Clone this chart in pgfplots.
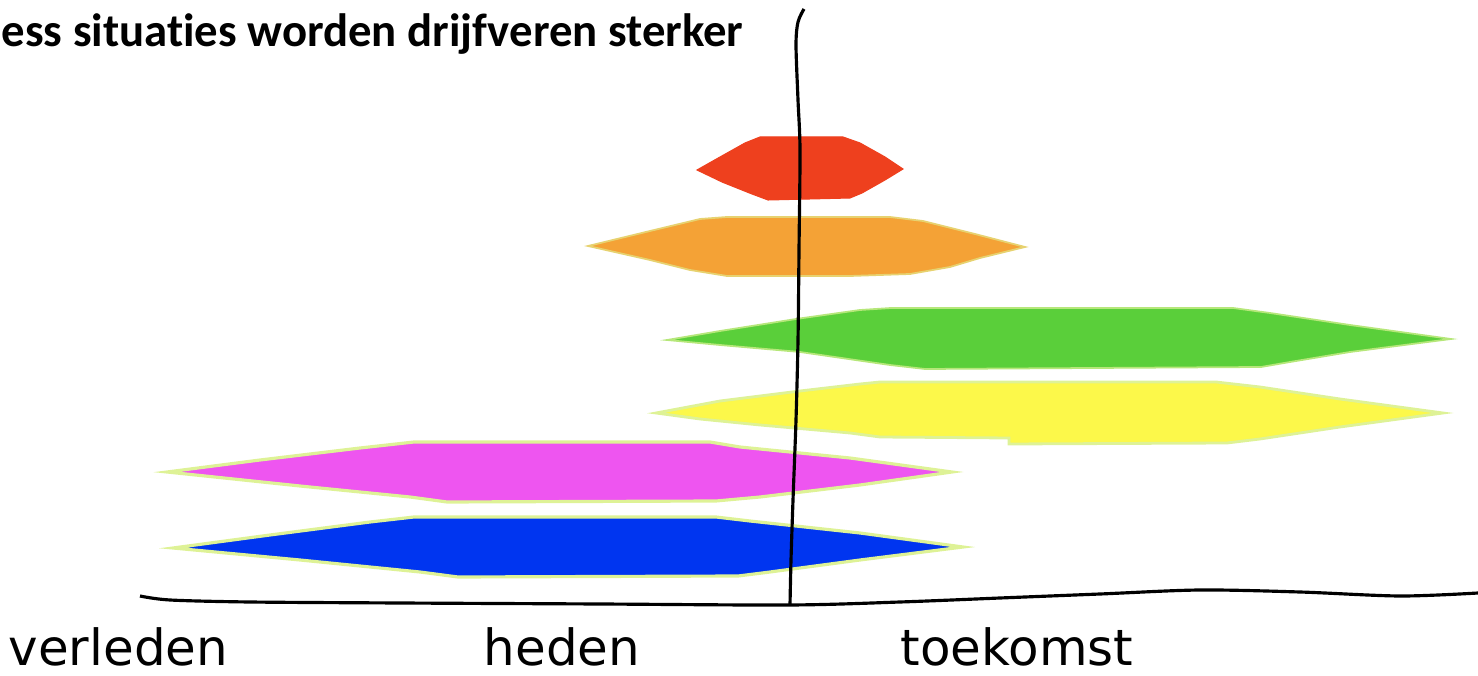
\documentclass[border=0pt]{standalone}
\usepackage{pgfplots}
\pgfplotsset{compat=1.18}
\usepackage{fontspec}
\setmainfont{Carlito}[Ligatures=NoCommon]
\newfontfamily\labelfont{DejaVu Sans}
\definecolor{cRed}{RGB}{238,64,30}
\definecolor{cOrange}{RGB}{244,162,54}
\definecolor{cGreen}{RGB}{90,207,58}
\definecolor{cYellow}{RGB}{252,248,74}
\definecolor{cMagenta}{RGB}{238,85,240}
\definecolor{cBlue}{RGB}{0,53,240}
\definecolor{cHalo}{RGB}{222,242,150}
\begin{document}
\begin{tikzpicture}
\begin{axis}[
  scale only axis, width=14.78cm, height=6.76cm,
  xmin=0, xmax=1478, ymin=0, ymax=676, y dir=reverse,
  hide axis, clip=false]
% red
\addplot[fill=cRed, draw=cRed, line width=0.3pt] coordinates {
 (697,170) (720,157) (745,143) (760,137) (843,137) (860,143) (885,157) (903,169)
 (885,180) (862,193) (850,198) (768,200) (752,194) (722,182)} -- cycle;
% orange
\addplot[fill=cOrange, draw=cHalo!60!cOrange, line width=0.5pt] coordinates {
 (588,246) (650,231) (700,219) (727,217) (890,217) (923,221) (975,234) (1025,247)
 (980,258) (950,267) (910,274) (850,276) (727,276) (690,270) (650,260)} -- cycle;
% green
\addplot[fill=cGreen, draw=cHalo!70!cGreen, line width=0.5pt] coordinates {
 (667,340) (720,331) (796,319) (860,310) (891,308) (1233,308) (1270,313) (1350,325) (1451,339)
 (1350,352) (1290,362) (1261,367) (925,369) (890,365) (800,352) (720,345)} -- cycle;
% yellow
\addplot[fill=cYellow, draw=cHalo, line width=0.8pt] coordinates {
 (656,413) (720,401) (800,391) (860,384) (880,382) (1216,382) (1260,387) (1340,399) (1443,413)
 (1340,427) (1260,439) (1227,443) (1009,444) (1009,438) (880,437) (850,433) (760,425) (700,419)} -- cycle;
% magenta
\addplot[fill=cMagenta, draw=cHalo, line width=0.9pt] coordinates {
 (167,472) (260,460) (360,448) (414,442) (710,442) (740,447) (850,458) (952,472)
 (860,485) (760,497) (716,501) (447,502) (410,497) (300,486)} -- cycle;
% blue
\addplot[fill=cBlue, draw=cHalo, line width=0.9pt] coordinates {
 (173,548) (270,535) (370,522) (414,517) (716,517) (750,521) (860,533) (963,547)
 (860,560) (770,572) (738,576) (458,577) (420,572) (300,560)} -- cycle;
% vertical line
\addplot[black, line width=0.9pt, smooth] coordinates {
 (804,9) (798,22) (796,45) (798,100) (800,150) (799,250) (798,340) (796,420) (793,500) (791,560) (790,605)};
% horizontal line
\addplot[black, line width=0.9pt, smooth] coordinates {
 (140,596) (170,600) (250,602) (400,603) (600,604) (790,605) (900,602) (1000,598)
 (1100,594) (1200,590) (1300,592) (1400,596) (1478,593)};
\node[anchor=base west, inner sep=0pt, font=\fontsize{13.3pt}{16pt}\selectfont\bfseries] at (axis cs:1,47) {ess situaties worden drijfveren sterker};
\node[anchor=base west, inner sep=0pt, font=\labelfont\fontsize{14.2pt}{17pt}\selectfont] at (axis cs:8,665) {verleden};
\node[anchor=base west, inner sep=0pt, font=\labelfont\fontsize{14.2pt}{17pt}\selectfont] at (axis cs:483,665) {heden};
\node[anchor=base west, inner sep=0pt, font=\labelfont\fontsize{14.2pt}{17pt}\selectfont] at (axis cs:900,665) {toekomst};
\end{axis}
\pgfresetboundingbox
\path (current axis.south west) rectangle (current axis.north east);
\end{tikzpicture}
\end{document}
